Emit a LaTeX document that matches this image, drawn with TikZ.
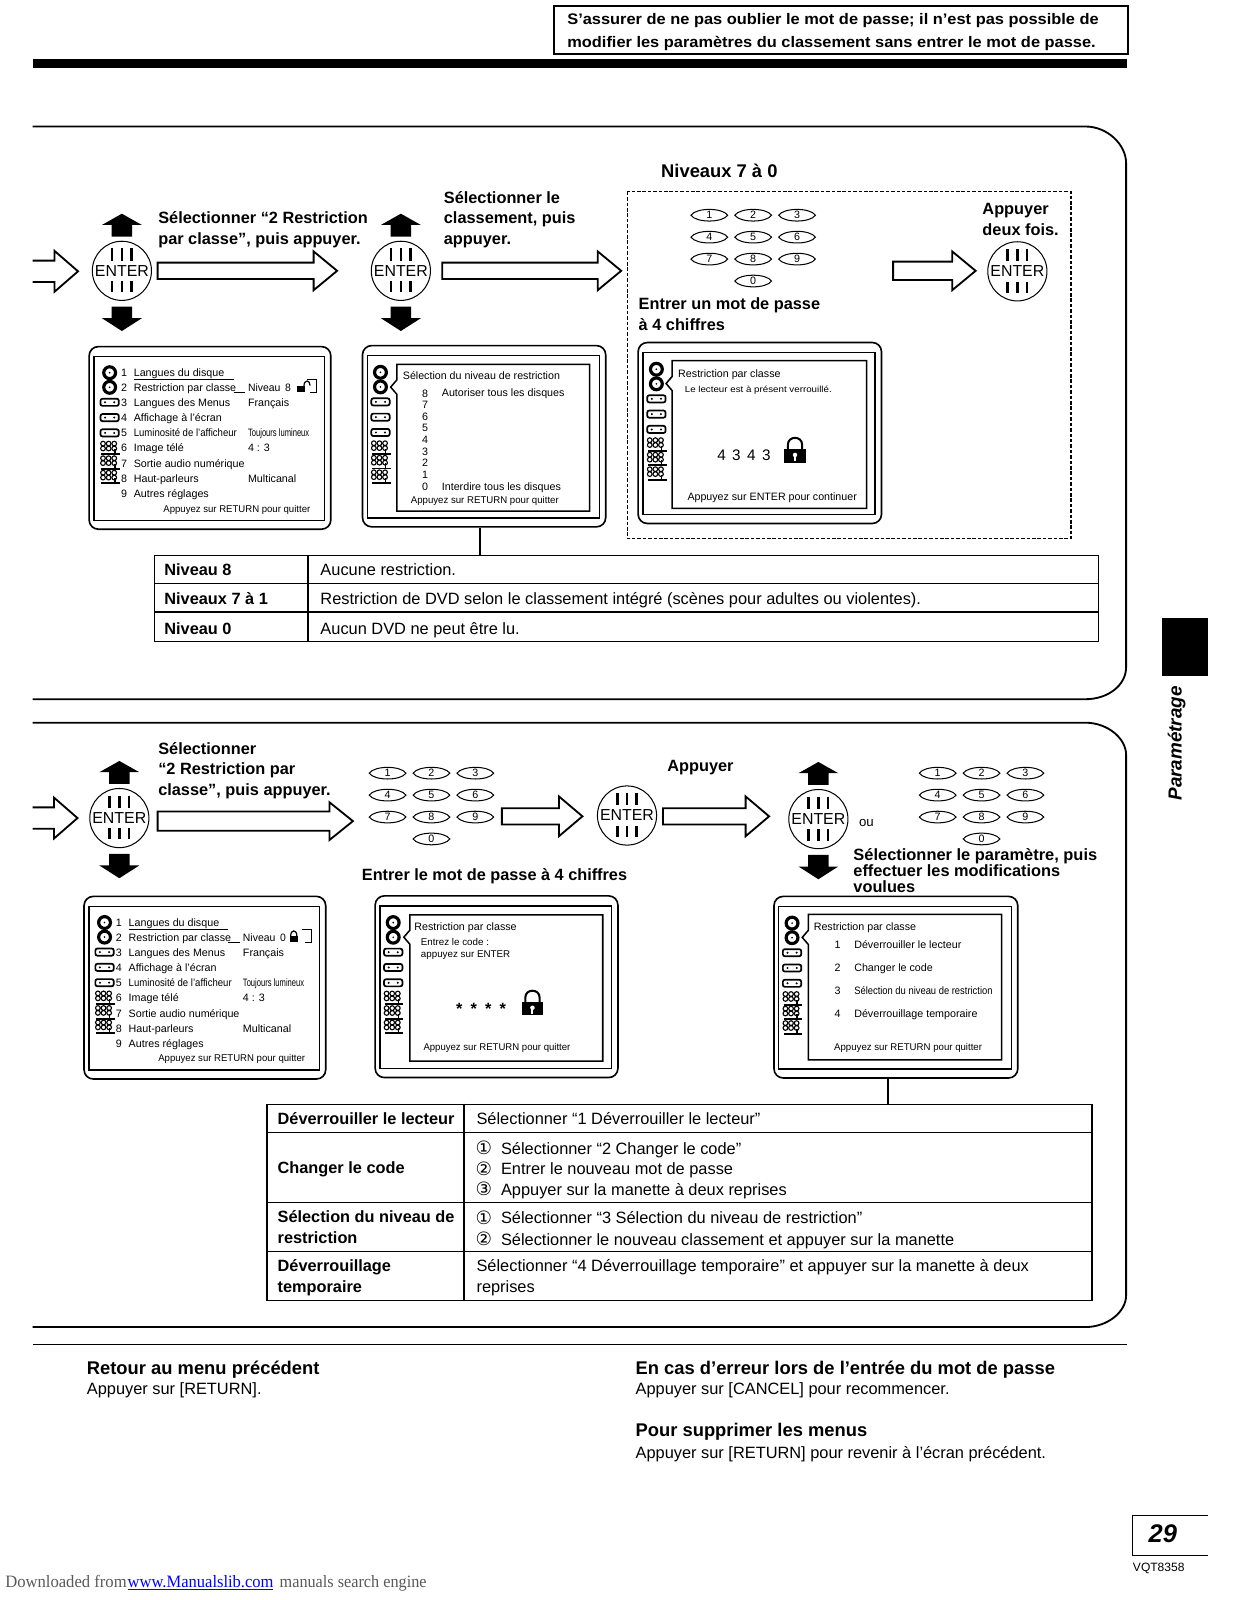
\documentclass[tikz,border=0pt]{standalone}
\usepackage{fontspec}
\usepackage{graphicx}
\setmainfont{Liberation Sans}
\newfontfamily\djv{DejaVu Sans}
\newfontfamily\srf{Liberation Serif}
\newcommand\fsz[1]{\fontsize{#1}{#1}\selectfont}
\newcommand\fitw[2]{\resizebox{#1pt}{\height}{#2}}
\newcount\tc
\tikzset{
 lbl/.style={anchor=west,inner sep=0pt,text height=1.12em,text depth=0pt},
 lb/.style={font=\fsz{16}\bfseries},
 hd/.style={font=\fsz{18}\bfseries},
 rg/.style={font=\fsz{16.05}},
 sm/.style={font=\fsz{10.5},text height=.72em,text depth=0pt},
 xs/.style={font=\fsz{9.6},text height=.72em,text depth=0pt},
 circ/.style={font=\fsz{18}\djv,text height=1.25em},
 keyl/.style={draw,line width=1pt},
 hol/.style={draw,line width=1.8pt,line join=miter,fill=white},
 frame/.style={line width=1.8pt},
 screenbox/.style={draw,line width=1.6pt,rounded corners=9pt,inner sep=0pt},
 tablebox/.style={draw,line width=1.4pt,inner sep=0pt},
 tline/.style={line width=1.3pt},
 entc/.style={draw,circle,line width=1pt,minimum size=58pt,inner sep=0pt},
}
\newcommand\tx[4][]{\global\advance\tc by 1 \node[lbl,#1] (t\the\tc) at (#2,#3) {#4};}
% hollow arrow: x1 x2 y halfshaft halfhead headlen
\newcommand\harrow[6]{\draw[hol] (#1,#3-#4) -- (#2-#6,#3-#4) -- (#2-#6,#3-#5) -- (#2,#3) -- (#2-#6,#3+#5) -- (#2-#6,#3+#4) -- (#1,#3+#4) -- cycle;}
\newcommand\stub[3]{\draw[hol] (#1,#3-10.5) -- (#2-23,#3-10.5) -- (#2-23,#3-20) -- (#2,#3) -- (#2-23,#3+20) -- (#2-23,#3+10.5) -- (#1,#3+10.5);}
% enter button
\newcommand\ent[3]{\node[entc] (#1) at (#2,#3) {};
 \node[inner sep=0pt,font=\fsz{15.6}] (#1txt) at (#1) {ENTER};
 \foreach \dx in {-9.5,0,9.5}{\draw[line width=2.4pt] (#2+\dx,#3-22) -- (#2+\dx,#3-10) (#2+\dx,#3+10) -- (#2+\dx,#3+21);}}
\newcommand\updn[2]{\fill (#1,#2-56) -- (#1+19.5,#2-45) -- (#1+10,#2-45) -- (#1+10,#2-33.5) -- (#1-10,#2-33.5) -- (#1-10,#2-45) -- (#1-19.5,#2-45) -- cycle;
 \fill (#1,#2+59) -- (#1+19.5,#2+46.5) -- (#1+10,#2+46.5) -- (#1+10,#2+35) -- (#1-10,#2+35) -- (#1-10,#2+46.5) -- (#1-19.5,#2+46.5) -- cycle;}
% keypad
\newcommand\kkey[4]{\draw[keyl] (#2-18,#3) .. controls (#2-13,#3-7.6) and (#2+13,#3-7.6) .. (#2+18,#3) .. controls (#2+13,#3+7.6) and (#2-13,#3+7.6) .. (#2-18,#3) -- cycle;
 \node[inner sep=0pt,font=\fsz{10.5}] (#1) at (#2,#3) {#4};}
\newcommand\keypad[3]{\begin{scope}[shift={(#2,#3)}]
 \kkey{#1a}{0}{0}{1}\kkey{#1b}{43}{0}{2}\kkey{#1c}{86}{0}{3}
 \kkey{#1d}{0}{21.5}{4}\kkey{#1e}{43}{21.5}{5}\kkey{#1f}{86}{21.5}{6}
 \kkey{#1g}{0}{43}{7}\kkey{#1h}{43}{43}{8}\kkey{#1i}{86}{43}{9}
 \kkey{#1j}{43}{64.5}{0}\end{scope}}
% icons
\newcommand\idisc[2]{\draw[line width=3.1pt] (#1,#2) circle (5.8); \fill (#1,#2) circle (.9);}
\newcommand\itape[2]{\draw[line width=1.7pt,rounded corners=2pt] (#1-9,#2-3.5) rectangle (#1+9,#2+3.5); \fill (#1-4.5,#2) circle (1.1) (#1+4.5,#2) circle (1.1);}
\newcommand\ipeople[2]{\foreach \dx in {-5.5,0,5.5}{\draw[line width=1.1pt] (#1+\dx-1,#2-4.5) circle (2.3) (#1+\dx-1,#2+.3) circle (2.3);}
 \draw[line width=1.9pt] (#1-8,#2+6) -- (#1+10,#2+6);\draw[line width=1.6pt] (#1+5,#2+6) -- (#1+5,#2+1);}
\newcommand\iconsat[2]{% x, y top offset
 \idisc{#1}{#2}\idisc{#1}{#2+14.3}
 \itape{#1}{#2+29}\itape{#1}{#2+44}\itape{#1}{#2+59}
 \ipeople{#1}{#2+74}\ipeople{#1}{#2+88.3}\ipeople{#1}{#2+102.5}}
\newcommand\lck[2]{\draw[line width=2pt] (#1-7,#2-6) -- (#1-7,#2-11) .. controls (#1-7,#2-20) and (#1+7,#2-20) .. (#1+7,#2-11) -- (#1+7,#2-6);
 \fill (#1-10.5,#2-6.5) rectangle (#1+10.5,#2+6.5);
 \fill[white] (#1,#2-1) circle (2.2); \fill[white] (#1-1,#2) rectangle (#1+1,#2+5);}
% screen frame
\newcommand\scrframe[5]{\pgfmathsetmacro\scW{#4-#2}\pgfmathsetmacro\scH{#5-#3}
 \node[screenbox,anchor=north west,minimum width=\scW pt,minimum height=\scH pt] (#1) at (#2,#3) {};
 \draw[line width=1.3pt] (#2+5.5,#3+10.7) rectangle (#4-5.5,#5-8);}
\newcommand\bubble[5]{\draw[line width=1.5pt,fill=white] (#1,#2) -- (#3,#2) -- (#3,#4) -- (#1,#4) -- (#1,#5+7) -- (#1-6,#5) -- (#1,#5-7) -- cycle;}
% menu screen
\newcommand\menuscr[5]{\begin{scope}[shift={(#2,#3)}]
 \scrframe{#1}{86.6}{339}{323.5}{518}
 \iconsat{107.5}{365.4}
 \draw[line width=1pt] (131,372.3) -- (229,372.3) (229,385.2) -- (240,385.2) (301,372.3) -- (310,372.3) -- (310,385.2) -- (304,385.2);
 \tx[sm]{118.5}{365.4}{1}\tx[sm]{131}{365.4}{Langues du disque}
 \tx[sm]{118.5}{380}{2}\tx[sm]{131}{380}{Restriction par classe}\tx[sm]{243}{380}{#4}
 \tx[sm]{118.5}{395}{3}\tx[sm]{131}{395}{Langues des Menus}\tx[sm]{243}{395}{Français}
 \tx[sm]{118.5}{410}{4}\tx[sm]{131}{410}{Affichage à l’écran}
 \tx[sm]{118.5}{424.5}{5}\tx[sm]{131}{424.5}{\fitw{101}{Luminosité de l’afficheur}}\tx[sm]{243}{424.5}{\fitw{60}{Toujours lumineux}}
 \tx[sm]{118.5}{439.5}{6}\tx[sm]{131}{439.5}{Image télé}\tx[sm]{243}{439.5}{4 : 3}
 \tx[sm]{118.5}{454.5}{7}\tx[sm]{131}{454.5}{Sortie audio numérique}
 \tx[sm]{118.5}{469.5}{8}\tx[sm]{131}{469.5}{Haut-parleurs}\tx[sm]{243}{469.5}{Multicanal}
 \tx[sm]{118.5}{484.5}{9}\tx[sm]{131}{484.5}{Autres réglages}
 \tx[xs]{160}{498.5}{\fitw{144}{Appuyez sur RETURN pour quitter}}
 #5
 \end{scope}}
\begin{document}
\begin{tikzpicture}[x=1pt,y=-1pt]
\useasboundingbox (0,0) rectangle (1212.7,1568.6);
% top note
\node[draw,line width=2pt,anchor=north west,inner sep=0pt,minimum width=563pt,minimum height=47pt] (note) at (542,5) {};
\tx[font=\fsz{15}\bfseries]{556}{18}{\fitw{521}{S’assurer de ne pas oublier le mot de passe; il n’est pas possible de}}
\tx[font=\fsz{15}\bfseries]{556}{41}{\fitw{518}{modifier les paramètres du classement sans entrer le mot de passe.}}
\fill (32,58) rectangle (1105,66.5);
% section outlines
\draw[frame] (32,124) -- (1064,124) .. controls (1086,124) and (1104,142) .. (1104,160) -- (1104,654) .. controls (1104,672) and (1086,685.5) .. (1064,685.5) -- (32,685.5);
\draw[frame] (32,708.5) -- (1064,708.5) .. controls (1086,708.5) and (1104,724) .. (1104,740) -- (1104,1270) .. controls (1104,1286) and (1086,1301) .. (1064,1301) -- (32,1301);
\draw[line width=1.4pt] (32,1318) -- (1105,1318);
% side tab
\fill (1139.6,606) rectangle (1184.3,662.7);
\node[rotate=90,anchor=base west,inner sep=0pt,font=\fsz{18.5}\bfseries\itshape] (tabtext) at (1158.5,785) {Paramétrage};
% ---------- row 1
\stub{32}{76.5}{266}
\ent{ea}{119.5}{265.5}\updn{119.5}{265.5}
\harrow{154.5}{330.5}{265.5}{8}{19}{23}
\tx[lb]{155}{214}{Sélectionner “2 Restriction}
\tx[lb]{155}{234}{par classe", puis appuyer.}
\ent{eb}{393}{265.5}\updn{393}{265.5}
\harrow{433.5}{609}{265.5}{8}{19}{23}
\tx[lb]{435}{194}{Sélectionner le}
\tx[lb]{435}{214}{classement, puis}
\tx[lb]{435}{234}{appuyer.}
\tx[hd]{648}{168}{Niveaux 7 à 0}
\draw[dashed,line width=1.1pt,dash pattern=on 3.5pt off 1.8pt] (615,188) rectangle (1050,528);
\keypad{ka}{695.4}{211}
\tx[lb]{626}{298}{Entrer un mot de passe}
\tx[lb]{626}{318}{à 4 chiffres}
\harrow{875.6}{956.5}{265.5}{9}{19}{23}
\tx[lb]{963}{205}{Appuyer}
\tx[lb]{963}{225}{deux fois.}
\ent{ec}{997.4}{266}
% screens row 1
\menuscr{sa}{0}{0}{\fitw{42}{Niveau\ \,8}}{\fill (291,378.5) rectangle (299,384.5);\draw[line width=1.2pt] (298,378.5) .. controls (298,372) and (304,372) .. (304,378);}
% screen B
\scrframe{sb}{354.6}{338}{593}{515.7}
\iconsat{373}{365}
\bubble{389}{357.2}{578}{501}{379.5}
\tx[sm]{394.8}{368.6}{\fitw{154}{Sélection du niveau de restriction}}
\foreach \yy/\dd in {385.6/8,397/7,408.4/6,419.8/5,431.2/4,442.6/3,454/2,465.4/1,476.8/0}{\node[inner sep=0pt,font=\fsz{10.5}] (d\dd) at (416.7,\yy) {\dd};}
\tx[sm]{433}{385.6}{Autoriser tous les disques}
\tx[sm]{433}{476.8}{Interdire tous les disques}
\tx[xs]{402.6}{489.6}{\fitw{145}{Appuyez sur RETURN pour quitter}}
% screen C
\scrframe{sc}{624.8}{335}{863.4}{512.4}
\iconsat{643.5}{362}
\bubble{659}{353.5}{849.6}{498.4}{376}
\tx[sm]{664.7}{366}{Restriction par classe}
\tx[xs,font=\fsz{8.6}]{671.2}{381}{\fitw{144}{Le lecteur est à présent verrouillé.}}
\tx[font=\fsz{15}]{703}{446}{4\hspace{6.3pt}3\hspace{6.3pt}4\hspace{6.3pt}3}
\lck{779.4}{447}
\tx[sm]{673.8}{487}{\fitw{166}{Appuyez sur ENTER pour continuer}}
% table 1
\node[tablebox,anchor=north west,minimum width=925pt,minimum height=84pt] (tabA) at (151,544) {};
\draw[tline] (302,544) -- (302,628) (151,572) -- (1076,572) (151,600) -- (1076,600);
\draw[line width=1.5pt] ([xshift=-3.8pt]sb.south) -- ([xshift=-3.8pt]sb.south |- tabA.north);
\tx[lb]{161}{559}{Niveau 8}\tx[rg]{314}{559}{Aucune restriction.}
\tx[lb]{161}{587}{Niveaux 7 à 1}\tx[rg]{314}{587}{Restriction de DVD selon le classement intégré (scènes pour adultes ou violentes).}
\tx[lb]{161}{616}{Niveau 0}\tx[rg]{314}{616}{Aucun DVD ne peut être lu.}
% ---------- row 2
\stub{32}{76}{802}
\ent{ed}{117}{802}\updn{117}{802}
\harrow{154.5}{346}{805}{9.5}{18.5}{23}
\tx[lb]{155}{734}{Sélectionner}
\tx[lb]{155}{754}{“2 Restriction par}
\tx[lb]{155}{774}{classe", puis appuyer.}
\keypad{kb}{380}{758}
\harrow{492}{571}{800.3}{8}{19.5}{23}
\ent{ee}{614.7}{799.5}
\harrow{650}{754}{800.3}{8}{19.5}{23}
\tx[lb]{654}{751}{Appuyer}
\ent{ef}{802.3}{803}\updn{802.3}{803}
\tx[font=\fsz{13}]{842}{805}{ou}
\keypad{kc}{919.3}{758}
\tx[lb]{354.6}{858}{\fitw{260}{Entrer le mot de passe à 4 chiffres}}
\tx[lb]{836.5}{838}{\fitw{239}{Sélectionner le paramètre, puis}}
\tx[lb]{836.5}{854}{effectuer les modifications}
\tx[lb]{836.5}{869}{voulues}
\menuscr{sd}{-5}{539}{\fitw{42}{Niveau\ \,0}}{\fill (289,378.5) rectangle (297,384.5);\draw[line width=1.2pt] (290,378.5) .. controls (290,372) and (296,372) .. (296,378.5);}
% screen E
\scrframe{se}{367}{877.5}{605}{1055.6}
\iconsat{385.5}{904.5}
\bubble{401.9}{897}{590.9}{1040.2}{918.8}
\tx[sm]{406}{908.5}{Restriction par classe}
\tx[xs]{412.5}{923}{Entrez le code :}
\tx[xs]{412.5}{935}{appuyez sur ENTER}
\tx[font=\fsz{16}\bfseries]{447}{989}{*\hspace{8pt}*\hspace{8pt}*\hspace{8pt}*}
\lck{522}{989}
\tx[xs]{415}{1026}{\fitw{144}{Appuyez sur RETURN pour quitter}}
% screen F
\scrframe{sf}{758}{878}{997}{1056}
\iconsat{776.5}{905}
\bubble{792.5}{896.4}{982}{1039}{919}
\tx[sm]{797.6}{908.5}{Restriction par classe}
\tx[sm]{818}{925.9}{1}\tx[sm]{837.3}{925.9}{Déverrouiller le lecteur}
\tx[sm]{818}{948.6}{2}\tx[sm]{837.3}{948.6}{Changer le code}
\tx[sm]{818}{971.6}{3}\tx[sm]{837.3}{971.6}{\fitw{135.6}{Sélection du niveau de restriction}}
\tx[sm]{818}{994.4}{4}\tx[sm]{837.3}{994.4}{Déverrouillage temporaire}
\tx[xs]{817.6}{1026}{\fitw{145}{Appuyez sur RETURN pour quitter}}
% table 2
\node[tablebox,anchor=north west,minimum width=809pt,minimum height=192pt] (tabB) at (261,1082) {};
\draw[tline] (455,1082) -- (455,1274) (261,1110) -- (1070,1110) (261,1179) -- (1070,1179) (261,1227) -- (1070,1227);
\draw[line width=1.5pt] ([xshift=-7.5pt]sf.south) -- ([xshift=-7.5pt]sf.south |- tabB.north);
\tx[lb]{272}{1097}{Déverrouiller le lecteur}\tx[rg]{467}{1097}{Sélectionner “1 Déverrouiller le lecteur”}
\tx[lb]{272}{1145}{Changer le code}
\tx[circ]{466}{1126}{①}\tx[rg]{491}{1126}{Sélectionner “2 Changer le code”}
\tx[circ]{466}{1146}{②}\tx[rg]{491}{1146}{Entrer le nouveau mot de passe}
\tx[circ]{466}{1166}{③}\tx[rg]{491}{1166}{Appuyer sur la manette à deux reprises}
\tx[lb]{272}{1193}{Sélection du niveau de}\tx[lb]{272}{1213}{restriction}
\tx[circ]{466}{1194}{①}\tx[rg]{491}{1194}{Sélectionner “3 Sélection du niveau de restriction”}
\tx[circ]{466}{1215}{②}\tx[rg]{491}{1215}{Sélectionner le nouveau classement et appuyer sur la manette}
\tx[lb]{272}{1241}{Déverrouillage}\tx[lb]{272}{1262}{temporaire}
\tx[rg]{467}{1241}{Sélectionner “4 Déverrouillage temporaire” et appuyer sur la manette à deux}
\tx[rg]{467}{1262}{reprises}
% footer notes
\tx[hd]{85}{1342}{Retour au menu précédent}
\tx[rg]{85}{1362}{Appuyer sur [RETURN].}
\tx[hd]{623}{1342}{En cas d’erreur lors de l’entrée du mot de passe}
\tx[rg]{623}{1362}{Appuyer sur [CANCEL] pour recommencer.}
\tx[hd]{623}{1403}{Pour supprimer les menus}
\tx[rg]{623}{1424}{Appuyer sur [RETURN] pour revenir à l’écran précédent.}
% page number
\draw[line width=1.3pt] (1184,1486) -- (1110,1486) -- (1110,1525) -- (1184,1525);
\node[inner sep=0pt,font=\fsz{25}\bfseries\itshape] (pg) at (1140,1504) {29};
\node[inner sep=0pt,font=\fsz{11.8}] (vq) at (1136,1538) {VQT8358};
% download line
\tx[font=\fsz{17}\srf,text=black!65]{5}{1551}{\fitw{119}{Downloaded from}}
\tx[font=\fsz{17}\srf,text=blue]{125}{1551}{\fitw{143}{www.Manualslib.com}}
\draw[blue,line width=.8pt] (125,1558) -- (268,1558);
\tx[font=\fsz{17}\srf,text=black!65]{274}{1551}{\fitw{144}{manuals search engine}}
\end{tikzpicture}
\end{document}
